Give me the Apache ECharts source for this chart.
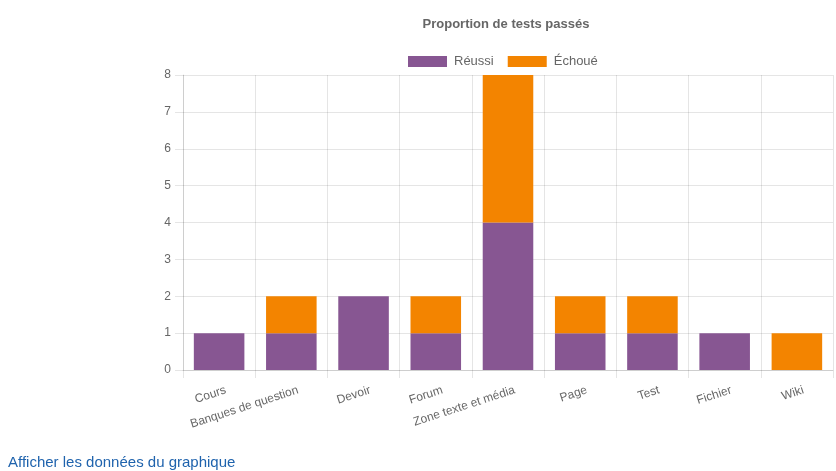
<!DOCTYPE html>
<html>
<head>
<meta charset="utf-8">
<script src="https://cdn.jsdelivr.net/npm/echarts@6/dist/echarts.min.js"></script>
<style>
html,body{margin:0;padding:0;background:#fff;}
#chart{width:836px;height:471px;}
#link{position:absolute;left:8px;top:453px;font-family:"Liberation Sans",Arial,sans-serif;font-size:15px;color:#1f63ad;text-decoration:none;}
</style>
</head>
<body>
<div id="chart"></div>
<a id="link" href="#">Afficher les données du graphique</a>
<script>
const categories = ["Cours", "Banques de question", "Devoir", "Forum", "Zone texte et média", "Page", "Test", "Fichier", "Wiki"];
const reussi = [1, 1, 2, 1, 4, 1, 1, 1, 0];
const echoue = [0, 1, 0, 1, 4, 1, 1, 0, 1];
const yTicks = [0, 1, 2, 3, 4, 5, 6, 7, 8];

const font = '"Liberation Sans", Arial, sans-serif';
const gridColor = 'rgba(0,0,0,0.1)';
const chart = echarts.init(document.getElementById('chart'));
chart.setOption({
  animation: false,
  textStyle: {fontFamily: font},
  title: {
    text: 'Proportion de tests passés',
    left: 501, top: 13, textAlign: 'center',
    textStyle: {fontSize: 13, fontWeight: 'bold', color: '#666', fontFamily: font}
  },
  legend: {
    left: 403, top: 50,
    itemWidth: 39, itemHeight: 11, itemGap: 14,
    icon: 'rect',
    textStyle: {fontSize: 13, color: '#666', fontFamily: font, padding: [0, 0, 0, 2]},
    data: ['Réussi', 'Échoué']
  },
  grid: {left: 183, right: 3, top: 75, bottom: 101, containLabel: false},
  xAxis: {
    type: 'category',
    data: categories,
    boundaryGap: true,
    axisLine: {show: true, lineStyle: {color: gridColor}},
    axisTick: {show: true, length: 8, lineStyle: {color: gridColor}},
    splitLine: {show: true, lineStyle: {color: gridColor}},
    axisLabel: {rotate: 18, interval: 0, fontSize: 12, color: '#666', margin: 22, padding: [0, -7, 0, 0], fontFamily: font}
  },
  yAxis: {
    type: 'value',
    min: yTicks[0], max: yTicks[yTicks.length - 1], interval: 1,
    axisLine: {show: true, lineStyle: {color: gridColor}},
    axisTick: {show: true, length: 8, lineStyle: {color: gridColor}},
    splitLine: {show: true, lineStyle: {color: gridColor}},
    axisLabel: {fontSize: 12, color: '#666', margin: 12, fontFamily: font}
  },
  series: [
    {name: 'Réussi', type: 'bar', stack: 'total', data: reussi, barCategoryGap: '30%', itemStyle: {color: '#875692'}},
    {name: 'Échoué', type: 'bar', stack: 'total', data: echoue, barCategoryGap: '30%', itemStyle: {color: '#f38400'}}
  ]
});
</script>
</body>
</html>
